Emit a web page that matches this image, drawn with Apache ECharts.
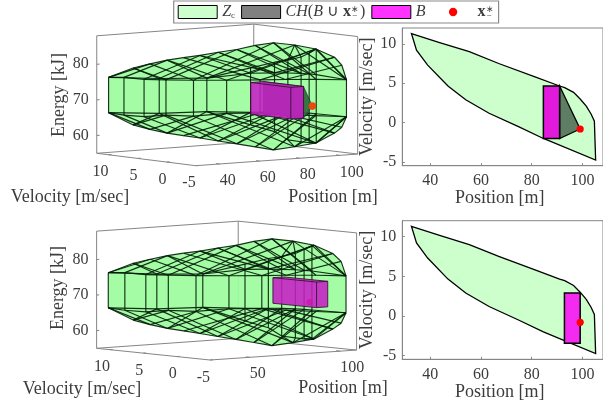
<!DOCTYPE html>
<html><head><meta charset="utf-8">
<style>html,body{margin:0;padding:0;background:#fff}#c{width:603px;height:408px}</style>
<script src="https://cdn.jsdelivr.net/npm/echarts@6/dist/echarts.min.js"></script></head>
<body><div id="c"></div>
<script>
// ---------- data ----------
const posTicksRight = [40,60,80,100];
const velTicks = [-5,0,5,10];
const energyTicks = [60,70,80];
const posTicksTop3d = [40,60,80,100];
const posTicksBottom3d = [50,100];
// Z_c outline in (position, velocity)
const zcOutline = [[32.6,11.3],[43.7,10.14],[55.4,9],[67,7.5],[81.3,5.8],[91,4.65],[93,4.45],[96.5,3.85],[99.1,3.0],[101.5,2.1],[103.4,1.1],[104.7,0.2],[105.2,-4.73],[84.6,-2],[74.8,-0.5],[63.2,1.2],[54,2.9],[47,4.65],[39,7.3],[34.6,9.2]];
const xStar = [99.1,-0.8,68];
const bTop = {p:[84.6,91], v:[-2,4.65], e:[65.2,74.1]};
const bBottom = {p:[92.9,99.1], v:[-3.42,2.9], e:[67.2,74.4]};
// Z_c solid: [position, velocity, energy top, energy bottom]
const rimFront = [[32,11.3,76.3,66.4],[34.2,9.4,76.6,66],[38.5,7.4,76.3,65.8],[44,5.5,76.3,66.4],[52,3.5,76.3,66.2],[62.5,1.4,76.3,67],[74,-0.4,76.3,67],[104.3,-4.7,76,65.6]];
const rimHelper = [[83,-1.6,76.3,66.5],[94,-3.05,76.2,66]];
const rimBack = [[52,9.3,75.6,65.8],[70,7.2,75.4,66],[86.5,5.3,78,62],[95,4.1,79.5,60],[99,3.2,80.1,57.7],[102,2,81.1,57.3],[103,1,82.4,57.2],[103.5,0,83.7,57.3]];
const ridge = [[38.6,9.3,79.1,63.1],[43.5,8.05,80.3,61.9],[48.5,6.8,81.4,60.9],[53.8,5.8,82.1,60.2],[59.2,4.8,82.7,59.5],[65.8,3.9,83.5,58.6],[72.5,3,84.2,57.7],[78.8,2,85.3,56.8],[85,1,86,55.9],[91.4,-0.4,85.4,56.8],[97.8,-1.8,84.3,57.9],[103.5,-3,82,60.7],[103.5,-4.2,80,62.6]];
const band = [[86.5,5.3,76.5,65.5],[95,4.1,76.5,65.5],[99,3.2,76.5,65.5],[102,2,76.5,65.5],[103,1,76.5,65.5],[103.5,0,76.5,65.5]];
// wire links between nodes: f=front rim, h=front helper, b=back rim, r=ridge, g=band
const links = ['f0 f1','f1 f2','f2 f3','f3 f4','f4 f5','f5 f6','f6 h0','h0 h1','h1 f7','f7 b7','b7 b6','b6 b5','b5 b4','b4 b3','b3 b2','b2 b1','b1 b0','b0 f0',
 'f0 r0','r0 r1','r1 r2','r2 r3','r3 r4','r4 r5','r5 r6','r6 r7','r7 r8','r8 r9','r9 r10','r10 r11','r11 r12','r12 f7',
 'f0 r1','f1 r2','f2 r4','f3 r6','f4 r8','f5 r10','f6 r11','h0 r12','b0 r5','b1 r9','g0 r10','g1 r11',
 'r0 f3','r1 f4','r2 f5','r3 f6','r4 g1','r5 h0','r6 g3','r7 g4','r8 h1','r9 f7','r10 f7',
 'r0 b0','r2 b1','r4 g0','r5 g1','r6 g2','r7 g3','r8 g5',
 'g0 g1','g1 g2','g2 g3','g3 g4','g4 g5','g5 f7','b1 g0',
 'b7 r10','b6 r10','b5 r9','b4 r9'];
const boxRange = {p:[28,109], v:[-5,12], e:[55,88]};
// camera of each 3D view
const viewTop = {ox:195.7,oy:165.7,a:2,b:5.82,k:0.00363,c:0.144,d:0.73,f:3.56};
const viewBottom = {ox:210,oy:360,a:1.81,b:6.67,k:0.00363,c:0.123,d:0.688,f:3.55};

// ---------- helpers ----------
const FONT='"Liberation Serif",serif', INK='#3c3c3c', GREY='#858585';
function proj(view,p,v,e){const P=p-boxRange.p[0],V=v-boxRange.v[0],E=e-boxRange.e[0];
 return [view.ox+view.a*P-view.b*V-view.k*P*V, view.oy-view.c*P-view.d*V-view.f*E];}
function polySeries(name,grid,polys,style,closed){return {type:'custom',name,xAxisIndex:grid,yAxisIndex:grid,silent:true,
 clip:false,data:polys.map(p=>p[0]),renderItem:(params,api)=>({type:closed?'polygon':'polyline',
 shape:{points:polys[params.dataIndex].map(pt=>api.coord(pt))},style:Object.assign({},style,closed?{}:{fill:null})})};}
function dotSeries(name,grid,pts,r,color){return {type:'custom',name,xAxisIndex:grid,yAxisIndex:grid,silent:true,clip:false,data:pts,
 renderItem:(params,api)=>{const c=api.coord([api.value(0),api.value(1)]);return {type:'circle',shape:{cx:c[0],cy:c[1],r},style:{fill:color}};}};}
function textSeries(items){return {type:'custom',name:'labels',xAxisIndex:0,yAxisIndex:0,silent:true,clip:false,data:items.map(t=>t.at),
 renderItem:(params,api)=>{const t=items[params.dataIndex],c=api.coord(t.at);
  return {type:'text',x:c[0],y:c[1],rotation:t.rot||0,style:{text:t.text,x:0,y:0,fill:INK,font:(t.size||16)+'px '+FONT,align:t.align||'center',verticalAlign:'middle'}};}};}
function nodeOf(id){return {f:rimFront,h:rimHelper,b:rimBack,r:ridge,g:band}[id[0]][+id.slice(1)];}
function solid3d(view,grid0,b,cfg){
 const P=(p,v,e)=>proj(view,p,v,e), R=boxRange, out=[];
 const [p0,p1]=R.p,[v0,v1]=R.v,[e0,e1]=R.e;
 // box
 const boxLines=[[P(p0,v1,e1),P(p0,v1,e0),P(p0,v0,e0),P(p1,v0,e0),P(p1,v0,e1)],
  [P(p0,v1,e1),P(p1,v1,e1),P(p1,v0,e1)],[P(p1,v1,e1),P(p1,v1,e0)],[P(p0,v1,e0),P(p1,v1,e0),P(p1,v0,e0)]];
 const ticks=[];
 velTicks.forEach(v=>ticks.push([P(p0,v,e0),P(p0+1.6,v,e0)]));
 cfg.posTicks.forEach(p=>ticks.push([P(p,v0,e0),P(p,v0+0.6,e0)]));
 energyTicks.forEach(e=>ticks.push([P(p0,v1,e),P(p0+1.5,v1,e)]));
 out.push(polySeries('box',0,boxLines.concat(ticks),{stroke:GREY,lineWidth:1},false));
 // solid silhouette
 const hi=[rimFront[0]].concat(ridge,[rimFront[7]]);
 const sil=hi.map(n=>P(n[0],n[1],n[2])).concat(hi.slice().reverse().map(n=>P(n[0],n[1],n[3])));
 out.push(polySeries('fill',0,[sil],{fill:'#9dfd9d',opacity:0.93,stroke:'none'},true));
 if(cfg.dotFirst) out.push(dotSeries('dot',0,[P(xStar[0],xStar[1],xStar[2])],cfg.dotR,cfg.dotColor));
 // wires
 const wires=[];
 links.forEach(l=>{const [a,b2]=l.split(' ').map(nodeOf);
  wires.push([P(a[0],a[1],a[2]),P(b2[0],b2[1],b2[2])]);wires.push([P(a[0],a[1],a[3]),P(b2[0],b2[1],b2[3])]);});
 rimFront.concat(rimBack).forEach(n=>wires.push([P(n[0],n[1],n[2]),P(n[0],n[1],n[3])]));
 out.push(polySeries('wire',0,wires,{stroke:'#021c08',lineWidth:1.15,opacity:0.9},false));
 if(cfg.hull){
  const hull=[P(b.p[1],b.v[1],b.e[1]),P(b.p[1],b.v[0],b.e[1]),P(xStar[0],xStar[1],xStar[2]),P(b.p[1],b.v[0],b.e[0]),P(b.p[1],b.v[1],b.e[0])];
  out.push(polySeries('hull',0,[hull],{fill:'#2c6a3a',opacity:0.92,stroke:'#123',lineWidth:0.6},true));
 }
 // B box
 const bOut=[P(b.p[0],b.v[1],b.e[1]),P(b.p[1],b.v[1],b.e[1]),P(b.p[1],b.v[0],b.e[1]),P(b.p[1],b.v[0],b.e[0]),P(b.p[0],b.v[0],b.e[0]),P(b.p[0],b.v[1],b.e[0])];
 out.push(polySeries('bfill',0,[bOut],{fill:'#c51fc5',opacity:0.88,stroke:'none'},true));
 const bEdges=[bOut.concat([bOut[0]]),[P(b.p[0],b.v[1],b.e[1]),P(b.p[0],b.v[0],b.e[1]),P(b.p[1],b.v[0],b.e[1])],[P(b.p[0],b.v[0],b.e[1]),P(b.p[0],b.v[0],b.e[0])]];
 out.push(polySeries('bedge',0,bEdges,{stroke:'#33102f',lineWidth:1,opacity:0.85},false));
 if(!cfg.dotFirst) out.push(dotSeries('dot',0,[P(xStar[0],xStar[1],xStar[2])],cfg.dotR,cfg.dotColor));
 // tick labels
 const labels=[];
 velTicks.forEach(v=>{const c=P(p0,v,e0);labels.push({at:[c[0],c[1]+17.5],text:String(v),align:'right'});});
 cfg.posTicks.forEach(p=>{const c=P(p,v0,e0);labels.push({at:[c[0],c[1]+17],text:String(p),align:'left'});});
 energyTicks.forEach(e=>{const c=P(p0,v1,e);labels.push({at:[c[0]-16,c[1]],text:String(e)});});
 labels.push({at:cfg.energyAt,text:'Energy [kJ]',rot:Math.PI/2,size:18});
 labels.push({at:cfg.velAt,text:'Velocity [m/sec]',size:18});
 labels.push({at:cfg.posAt,text:'Position [m]',size:18});
 out.push(textSeries(labels));
 return out;
}
function rightAxes(i,top,h){return {
 grid:{left:402.3,top,width:203,height:h,show:true,borderColor:GREY,borderWidth:1,backgroundColor:'transparent'},
 x:{type:'value',gridIndex:i,min:29,max:108.1,name:'Position [m]',nameLocation:'middle',nameGap:23,
  nameTextStyle:{fontFamily:FONT,fontSize:18,color:INK,padding:[0,6,0,0]},axisLine:{show:true,onZero:false,lineStyle:{color:GREY}},splitLine:{show:false},
  axisTick:{show:true,inside:true,length:2.5,customValues:posTicksRight,lineStyle:{color:GREY}},
  axisLabel:{customValues:posTicksRight,fontFamily:FONT,fontSize:16,color:INK,margin:7,showMinLabel:true,showMaxLabel:true}},
 y:{type:'value',gridIndex:i,min:-5.45,max:12,name:'Velocity [m/sec]',nameLocation:'middle',nameGap:20,
  nameTextStyle:{fontFamily:FONT,fontSize:18,color:INK},axisLine:{show:true,onZero:false,lineStyle:{color:GREY}},splitLine:{show:false},
  axisTick:{show:true,inside:true,length:2.5,customValues:velTicks,lineStyle:{color:GREY}},
  axisLabel:{customValues:velTicks,fontFamily:FONT,fontSize:16,color:INK,margin:6}}};}

const rT=rightAxes(1,28,137.7), rB=rightAxes(2,220.7,138.6);
const hiddenX={type:'value',gridIndex:0,min:0,max:603,show:false}, hiddenY={type:'value',gridIndex:0,min:0,max:408,inverse:true,show:false};
const rect=(b)=>[[b.p[0],b.v[0]],[b.p[1],b.v[0]],[b.p[1],b.v[1]],[b.p[0],b.v[1]]];
const hull2=[[bTop.p[1],bTop.v[1]],[xStar[0],xStar[1]],[bTop.p[1],bTop.v[0]]];
const ST={stroke:'#000',lineWidth:1.3};
const series=[
 ...solid3d(viewTop,0,bTop,{posTicks:posTicksTop3d,dotR:3.8,dotColor:'#e64a12',dotFirst:false,hull:true,energyAt:[59,95],velAt:[70,197],posAt:[333,197]}),
 ...solid3d(viewBottom,0,bBottom,{posTicks:posTicksBottom3d,dotR:3.2,dotColor:'#f01030',dotFirst:true,hull:false,energyAt:[58,288],velAt:[82,389],posAt:[343,388]}),
 polySeries('Zc',1,[zcOutline],Object.assign({fill:'#ccffcc'},ST),true),
 polySeries('CH',1,[hull2],Object.assign({fill:'#5f7d62'},ST),true),
 polySeries('B',1,[rect(bTop)],Object.assign({fill:'#e11adb'},ST,{lineWidth:1.5}),true),
 dotSeries('x',1,[[xStar[0],xStar[1]]],3.6,'#ff0000'),
 polySeries('Zc2',2,[zcOutline],Object.assign({fill:'#ccffcc'},ST),true),
 polySeries('B2',2,[rect(bBottom)],Object.assign({fill:'#f52af0'},ST,{lineWidth:1.5}),true),
 dotSeries('x2',2,[[xStar[0],xStar[1]]],3.6,'#ff0000'),
];
const legendText={Zc:'{i|Z}{sub|c}',CH:'{i|CH}{r|(}{i|B}{r| ∪ }{b|x}{sup|∗}{sub|−}{g2|}{r|)}',B:'{i|B}{gap|}',x:'{b|x}{sup|∗}{sub|−}'};
const dotIcon='path://M0,0h0.01M100,100h0.01M50,18a32,32 0 1,0 0.01,0z';
const opt={animation:false,backgroundColor:'#fff',
 grid:[{left:0,top:0,width:603,height:408,show:false},rT.grid,rB.grid],
 xAxis:[hiddenX,rT.x,rB.x],yAxis:[hiddenY,rT.y,rB.y],
 legend:{left:173.7,top:1,orient:'horizontal',itemWidth:39,itemHeight:13,itemGap:6,padding:[3,5,3,4],
  borderColor:'#8a8a8a',borderWidth:1.2,backgroundColor:'#fff',selectedMode:false,
  data:[{name:'Zc',icon:'rect',itemStyle:{color:'#ccffcc',borderColor:'#000',borderWidth:1}},
   {name:'CH',icon:'rect',itemStyle:{color:'#808080',borderColor:'#000',borderWidth:1}},
   {name:'B',icon:'rect',itemStyle:{color:'#ff33ff',borderColor:'#000',borderWidth:1}},
   {name:'x',icon:dotIcon,itemStyle:{color:'#ff0000',borderWidth:0}}],
  formatter:n=>legendText[n],
  textStyle:{fontFamily:FONT,fontSize:16,color:INK,lineHeight:16,rich:{
   i:{fontFamily:FONT,fontStyle:'italic',fontSize:16,color:INK,lineHeight:16},
   r:{fontFamily:FONT,fontSize:16,color:INK,lineHeight:16},
   b:{fontFamily:FONT,fontWeight:'bold',fontSize:16,color:INK,lineHeight:16},
   gap:{width:15,lineHeight:16},
   g2:{width:3,lineHeight:16},
   sub:{fontFamily:FONT,fontSize:9,color:INK,lineHeight:6,padding:[7,0,0,0]},
   sup:{fontFamily:FONT,fontSize:9,color:INK,lineHeight:6,padding:[0,0,5,0],width:1}}}},
 series};
const chart=echarts.init(document.getElementById('c'),null,{renderer:'canvas'});
chart.setOption(opt);
</script></body></html>
